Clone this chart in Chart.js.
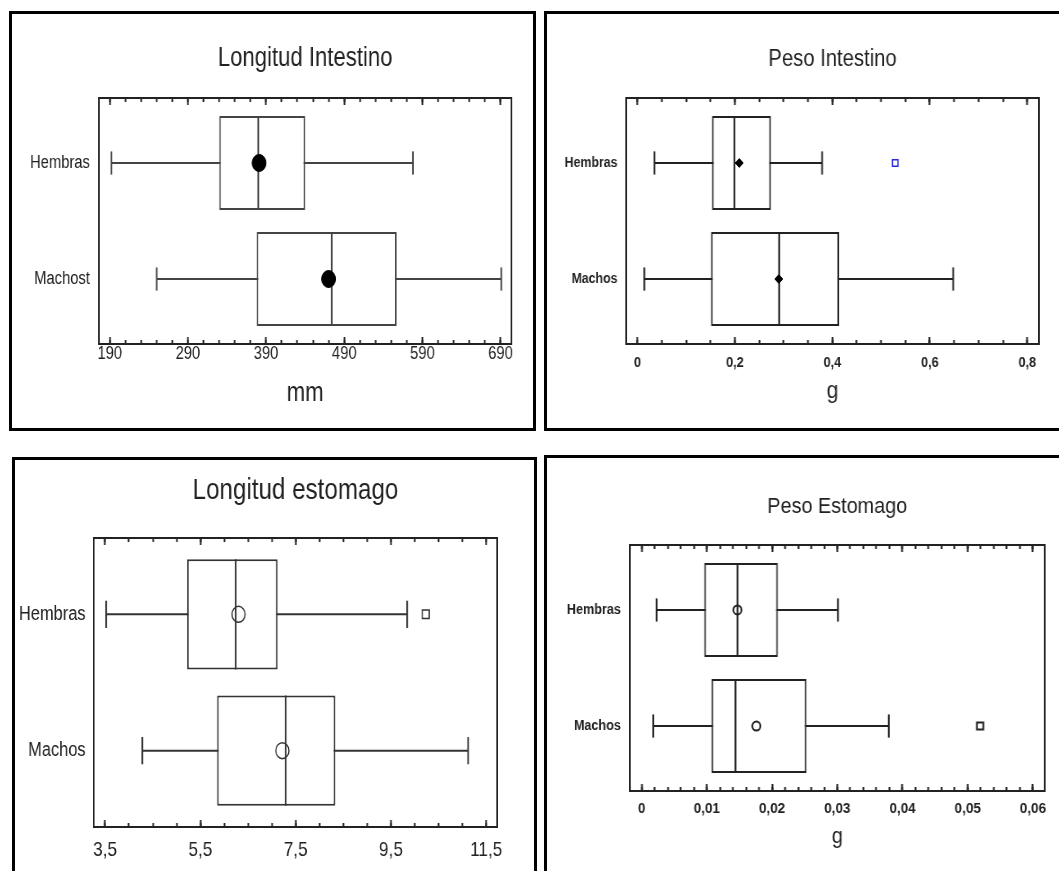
<!DOCTYPE html>
<html lang="es">
<head>
<meta charset="utf-8">
<title>Intestino y estómago: Hembras y Machos</title>
<script src="https://cdn.jsdelivr.net/npm/chart.js@4.4.1/dist/chart.umd.min.js"></script>
<style>
  html, body { margin: 0; padding: 0; background: #fff; }
  body { width: 1059px; height: 871px; overflow: hidden; position: relative; }
  .marco { position: absolute; border: 3px solid #000; box-sizing: border-box; }
  canvas { position: absolute; transform-origin: 0 0; }
</style>
</head>
<body>
<div class="marco" style="left:9px;top:11px;width:527px;height:420px"></div>
<div class="marco" style="left:544px;top:11px;width:530px;height:420px"></div>
<div class="marco" style="left:12px;top:457px;width:525px;height:440px"></div>
<div class="marco" style="left:544px;top:455px;width:530px;height:440px"></div>

<!-- los graficos se dibujan algo mas anchos y se estrechan en horizontal -->
<canvas id="longIntestino" width="635" height="414" style="left:12px;top:14px;transform:scaleX(0.82)"></canvas>
<canvas id="pesoIntestino" width="582" height="414" style="left:547px;top:14px;transform:scaleX(0.88)"></canvas>
<canvas id="longEstomago" width="633" height="411" style="left:15px;top:460px;transform:scaleX(0.82)"></canvas>
<canvas id="pesoEstomago" width="569" height="413" style="left:547px;top:458px;transform:scaleX(0.9)"></canvas>

<script>
// Longitud del intestino (mm)
const liGrupos = ['Hembras', 'Machost'];
const liMin = [192, 250];
const liQ1 = [330, 378];
const liMediana = [380, 474];
const liQ3 = [440, 557];
const liMax = [578, 691];
const liMedia = [381, 470];
const liAtipicos = [[], []];
const liTicks = [190, 290, 390, 490, 590, 690];

// Peso del intestino (g)
const piGrupos = ['Hembras', 'Machos'];
const piMin = [0.035, 0.014];
const piQ1 = [0.153, 0.151];
const piMediana = [0.199, 0.291];
const piQ3 = [0.274, 0.414];
const piMax = [0.379, 0.648];
const piMedia = [0.209, 0.29];
const piAtipicos = [[0.529], []];
const piTicks = [0, 0.2, 0.4, 0.6, 0.8];

// Longitud del estomago
const leGrupos = ['Hembras', 'Machos'];
const leMin = [3.52, 4.28];
const leQ1 = [5.22, 5.85];
const leMediana = [6.24, 7.29];
const leQ3 = [7.12, 8.33];
const leMax = [9.84, 11.12];
const leMedia = [6.30, 7.22];
const leAtipicos = [[10.23], []];
const leTicks = [3.5, 5.5, 7.5, 9.5, 11.5];

// Peso del estomago (g)
const peGrupos = ['Hembras', 'Machos'];
const peMin = [0.0023, 0.0018];
const peQ1 = [0.0096, 0.0107];
const peMediana = [0.0147, 0.0144];
const peQ3 = [0.0209, 0.0253];
const peMax = [0.0301, 0.0379];
const peMedia = [0.0147, 0.0176];
const peAtipicos = [[], [0.0519]];
const peTicks = [0, 0.01, 0.02, 0.03, 0.04, 0.05, 0.06];

const FUENTE = "'Liberation Sans', Arial, sans-serif";
const TEXTO = '#222';
const ALTO_CAJA = 0.81;   // alto de la caja, en unidades del eje de grupos
const BIGOTE = 0.1;       // medio alto del remate de cada bigote

Chart.defaults.font.family = FUENTE;

// marcas del eje: principales con rotulo y secundarias cada "paso"
function marcas(principales, paso, min, max) {
  const cada = Math.round((principales[1] - principales[0]) / paso);
  const nIni = Math.ceil((min - principales[0]) / paso - 1e-9);
  const nFin = Math.floor((max - principales[0]) / paso + 1e-9);
  const lista = [];
  for (let n = nIni; n <= nFin; n++) {
    const k = n / cada;
    const esPrincipal = Number.isInteger(k) && principales[k] !== undefined;
    lista.push({
      value: principales[0] + n * paso,
      principal: esPrincipal,
      txt: esPrincipal ? String(principales[k]).replace('.', ',') : ''
    });
  }
  return lista;
}

function diagrama(id, d, e) {
  const fila = d.grupos.map((_, i) => i + 1);
  const ticks = marcas(d.ticks, e.paso, e.min, e.max);
  const remate = c => {
    const y = c.chart.scales.y;
    return Math.abs(y.getPixelForValue(1 + BIGOTE) - y.getPixelForValue(1));
  };
  const linea = { borderColor: e.linea, borderWidth: 2, fill: false };

  const datasets = [];
  fila.forEach((f, i) => {
    // bigote completo, queda tapado por la caja
    datasets.push({
      type: 'line', order: 3, ...linea,
      data: [{ x: d.min[i], y: f }, { x: d.max[i], y: f }],
      pointStyle: 'line', rotation: 90, pointRadius: remate,
      pointBorderColor: e.linea, pointBorderWidth: 2
    });
    // mediana
    datasets.push({
      type: 'line', order: 1, ...linea, pointRadius: 0,
      data: [{ x: d.mediana[i], y: f - ALTO_CAJA / 2 }, { x: d.mediana[i], y: f + ALTO_CAJA / 2 }]
    });
  });
  datasets.push({
    type: 'bar', order: 2,
    data: fila.map((f, i) => ({ x: [d.q1[i], d.q3[i]], y: f })),
    backgroundColor: '#fff', borderColor: e.linea, borderWidth: 2, borderSkipped: false,
    barPercentage: ALTO_CAJA, categoryPercentage: 1
  });
  datasets.push({
    type: 'scatter', order: 0,
    data: fila.map((f, i) => ({ x: d.media[i], y: f })),
    ...e.media
  });
  const fuera = [];
  d.atipicos.forEach((vals, i) => vals.forEach(v => fuera.push({ x: v, y: fila[i] })));
  if (fuera.length) datasets.push({ type: 'scatter', order: 0, data: fuera, ...e.atipico });

  const todas = s => { s.ticks = ticks.map(t => ({ value: t.value })); };
  const mayores = s => { s.ticks = ticks.filter(t => t.principal).map(t => ({ value: t.value })); };
  const borde = { display: true, color: TEXTO, width: 2 };
  const marcaCorta = { display: true, drawOnChartArea: false, drawTicks: true, tickLength: -4, tickColor: TEXTO, tickWidth: 2 };
  const marcaLarga = { ...marcaCorta, tickLength: -7 };
  // ejes auxiliares sin rotulos: solo ponen las marcas sobre el marco
  const auxiliar = (position, weight, grid, build) => ({
    type: 'linear', position, weight, min: e.min, max: e.max,
    afterBuildTicks: build,
    afterFit: s => { s.height = 0; },
    ticks: { display: false },
    grid,
    border: { display: false }
  });

  return new Chart(document.getElementById(id), {
    type: 'bar',
    data: { datasets },
    options: {
      indexAxis: 'y',
      responsive: false,
      animation: false,
      events: [],
      layout: { padding: { left: 0, right: e.padDer, top: 0, bottom: 0 } },
      plugins: {
        legend: { display: false },
        tooltip: { enabled: false },
        title: {
          display: true, text: e.titulo, fullSize: false, color: TEXTO,
          font: { size: e.tituloSize, weight: 'normal' },
          padding: e.tituloPad
        }
      },
      scales: {
        xMayor: auxiliar('bottom', -1, marcaLarga, mayores),
        x: {
          type: 'linear', position: 'bottom', min: e.min, max: e.max,
          afterBuildTicks: todas,
          afterFit: s => { s.height = e.altoX; },
          ticks: {
            autoSkip: false, maxRotation: 0, padding: e.tickPad, color: TEXTO,
            font: { size: e.tickSize, weight: e.tickPeso },
            callback: (v, i) => ticks[i] ? ticks[i].txt : ''
          },
          grid: marcaCorta,
          border: borde,
          title: {
            display: !!e.unidad, text: e.unidad || '', color: TEXTO,
            font: { size: e.unidadSize || 12 },
            padding: { top: 0, bottom: e.unidadPad || 0 }
          }
        },
        x2: {
          type: 'linear', position: 'top', min: e.min, max: e.max,
          afterBuildTicks: todas,
          afterFit: s => { s.height = 0; },
          ticks: { display: false },
          grid: marcaCorta,
          border: borde
        },
        x2Mayor: auxiliar('top', -1, marcaLarga, mayores),
        y: {
          type: 'linear', position: 'left', reverse: true, min: 0.44, max: 2.56, offset: false,
          afterBuildTicks: s => { s.ticks = fila.map(v => ({ value: v })); },
          afterFit: s => { s.width = e.anchoY; },
          ticks: {
            autoSkip: false, padding: e.grupoPad, color: TEXTO,
            font: { size: e.grupoSize, weight: e.grupoPeso },
            callback: (v, i) => d.grupos[i]
          },
          grid: { display: false, drawTicks: false, tickLength: 0, offset: false },
          border: borde
        },
        y2: {
          type: 'linear', position: 'right', min: 0, max: 1,
          afterFit: s => { s.width = 0; },
          ticks: { display: false },
          grid: { display: false, drawTicks: false },
          border: borde
        }
      }
    }
  });
}

diagrama('longIntestino', {
  grupos: liGrupos, min: liMin, q1: liQ1, mediana: liMediana, q3: liQ3, max: liMax,
  media: liMedia, atipicos: liAtipicos, ticks: liTicks
}, {
  titulo: 'Longitud Intestino', tituloSize: 27, tituloPad: { top: 28.5, bottom: 23.1 },
  anchoY: 106, padDer: 26, altoX: 84,
  min: 176, max: 704, paso: 20,
  tickSize: 18, tickPeso: 'normal', tickPad: 3.2,
  grupoSize: 18, grupoPeso: 'normal', grupoPad: 11,
  unidad: 'mm', unidadSize: 27, unidadPad: 18.5,
  linea: '#444',
  media: { pointStyle: 'circle', pointRadius: 8.5, pointBackgroundColor: '#000', pointBorderColor: '#000', pointBorderWidth: 1 }
});

diagrama('pesoIntestino', {
  grupos: piGrupos, min: piMin, q1: piQ1, mediana: piMediana, q3: piQ3, max: piMax,
  media: piMedia, atipicos: piAtipicos, ticks: piTicks
}, {
  titulo: 'Peso Intestino', tituloSize: 23, tituloPad: { top: 32.2, bottom: 24.2 },
  anchoY: 90, padDer: 23, altoX: 84,
  min: -0.023, max: 0.824, paso: 0.05,
  tickSize: 14.5, tickPeso: 'bold', tickPad: 14.1,
  grupoSize: 14, grupoPeso: 'bold', grupoPad: 10,
  unidad: 'g', unidadSize: 24, unidadPad: 22.6,
  linea: '#222',
  media: { pointStyle: 'rectRot', pointRadius: 4.5, pointBackgroundColor: '#000', pointBorderColor: '#000', pointBorderWidth: 1 },
  atipico: { pointStyle: 'rect', pointRadius: 4.5, pointBackgroundColor: '#fff', pointBorderColor: '#2a2ad8', pointBorderWidth: 1.5 }
});

diagrama('longEstomago', {
  grupos: leGrupos, min: leMin, q1: leQ1, mediana: leMediana, q3: leQ3, max: leMax,
  media: leMedia, atipicos: leAtipicos, ticks: leTicks
}, {
  titulo: 'Longitud estomago', tituloSize: 29.5, tituloPad: { top: 13.6, bottom: 29 },
  anchoY: 96, padDer: 45, altoX: 44,
  min: 3.26, max: 11.73, paso: 0.5,
  tickSize: 21, tickPeso: 'normal', tickPad: 14.8,
  grupoSize: 20, grupoPeso: 'normal', grupoPad: 10,
  linea: '#333',
  media: { pointStyle: 'circle', pointRadius: 8, pointBackgroundColor: 'rgba(0,0,0,0)', pointBorderColor: '#333', pointBorderWidth: 1.5 },
  atipico: { pointStyle: 'rect', pointRadius: 6, pointBackgroundColor: '#fff', pointBorderColor: '#333', pointBorderWidth: 1.5 }
});

diagrama('pesoEstomago', {
  grupos: peGrupos, min: peMin, q1: peQ1, mediana: peMediana, q3: peQ3, max: peMax,
  media: peMedia, atipicos: peAtipicos, ticks: peTicks
}, {
  titulo: 'Peso Estomago', tituloSize: 22, tituloPad: { top: 36.2, bottom: 24.4 },
  anchoY: 92, padDer: 16, altoX: 80,
  min: -0.0018, max: 0.0618, paso: 0.002,
  tickSize: 15, tickPeso: 'bold', tickPad: 12.8,
  grupoSize: 14, grupoPeso: 'bold', grupoPad: 10,
  unidad: 'g', unidadSize: 22, unidadPad: 20.7,
  linea: '#222',
  media: { pointStyle: 'circle', pointRadius: 4.5, pointBackgroundColor: 'rgba(0,0,0,0)', pointBorderColor: '#222', pointBorderWidth: 2 },
  atipico: { pointStyle: 'rect', pointRadius: 5, pointBackgroundColor: '#fff', pointBorderColor: '#222', pointBorderWidth: 2 }
});
</script>
</body>
</html>
